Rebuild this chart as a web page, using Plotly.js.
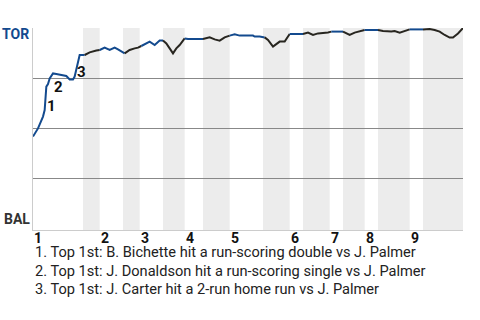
<!DOCTYPE html>
<html>
<head>
<meta charset="utf-8">
<script src="https://cdn.plot.ly/plotly-3.0.1.min.js"></script>
<style>html,body{margin:0;padding:0;background:#fff;}#chart{width:480px;height:320px;}</style>
</head>
<body>
<div id="chart"></div>
<script>
// Game progress (event index) and Toronto win probability (%)
const playX = [0,3,6,7,8,9,10,12,14,17,20,22,24,25,28,31,
  34,38,40,43,46,49,51,53,55,58,61,63,
  65,67,70,73,76,78,80,82,84,86,88,
  91,93,102,106,109,112,115,118,121,124,132,133,136,
  139,141,144,146,148,151,154,162,165,168,171,177,
  179,184,186,190,193,197,199,207,210,215,217,220,223,
  226,234,238,241,244,247,250,252,255,258];
const torWP = [45.7,49.8,55.7,59,70.7,72,74.8,77.3,77,76.5,76,74.3,74.3,75.7,86.5,86.5,
  87.8,88.7,89,90.2,89,90.2,89.3,88.2,87.3,89,89.8,90.2,
  91,91.8,93.2,91.5,93.7,93.7,92.3,89.8,87.3,89.8,91.5,
  94.8,94.5,94.5,95.3,94.3,93.7,95.3,96.2,96.8,96.2,96.2,95.7,95.7,
  95.3,94,90.7,92,93.2,93.2,97,97,97.7,96.5,97.3,97.8,
  98.2,98.2,98.2,96.5,97.7,98.7,99,99,98.5,98.2,98.5,97.7,98.5,
  99.3,99.3,99.5,99,98.2,96.5,95.2,95.2,97.3,100];
// Start of each half-inning (top 1st, bottom 1st, ..., bottom 9th)
const halfStarts = [0,30,40,54,64,78,91,102,118,138,154,162,178,186,199,207,226,234];
const gameEnd = 258;
const inningLabels = ['1','2','3','4','5','6','7','8','9'];
// Key events
const eventLabels = ['1','2','3'];
const eventX = [11,15,29];
const eventY = [61,70.5,78];
const eventNotes = [
  '1. Top 1st: B. Bichette hit a run-scoring double vs J. Palmer',
  '2. Top 1st: J. Donaldson hit a run-scoring single vs J. Palmer',
  '3. Top 1st: J. Carter hit a 2-run home run vs J. Palmer'
];
const teams = ['TOR','BAL'];

const BLUE = '#134A8E', DARK = '#27251F';
const traces = [];
for (let i = 0; i < halfStarts.length; i++) {
  const s = halfStarts[i];
  const e = i + 1 < halfStarts.length ? halfStarts[i + 1] : Infinity;
  const xs = [], ys = [];
  let added = false;
  for (let k = 0; k < playX.length; k++) {
    if (playX[k] >= s && playX[k] < e) { xs.push(playX[k]); ys.push(torWP[k]); }
    else if (playX[k] >= e && !added) { xs.push(playX[k]); ys.push(torWP[k]); added = true; }
  }
  traces.push({x: xs, y: ys, type: 'scatter', mode: 'lines', hoverinfo: 'skip',
    line: {color: i % 2 === 0 ? BLUE : DARK, width: 2}, showlegend: false});
}

const shapes = [];
for (let i = 1; i < halfStarts.length; i += 2) {
  const e = i + 1 < halfStarts.length ? halfStarts[i + 1] : gameEnd;
  shapes.push({type: 'rect', xref: 'x', yref: 'paper', x0: halfStarts[i], x1: e, y0: 0, y1: 1,
    fillcolor: '#ececec', line: {width: 0}, layer: 'below'});
}

const annotations = [];
inningLabels.forEach((t, j) => annotations.push({x: halfStarts[2 * j], y: 0, xref: 'x', yref: 'paper',
  text: t, showarrow: false, xanchor: 'left', yanchor: 'middle', xshift: 1, yshift: -8,
  borderpad: 0, borderwidth: 0,
  font: {family: 'Roboto', size: 14, color: '#111', weight: 'bold'}}));
eventLabels.forEach((t, j) => annotations.push({x: eventX[j], y: eventY[j], xref: 'x', yref: 'y',
  text: t, showarrow: false, xanchor: 'center', yanchor: 'middle', borderpad: 0, borderwidth: 0,
  font: {family: 'Roboto', size: 15, color: '#111', weight: 'bold'}}));
eventNotes.forEach((t, j) => annotations.push({x: 0, y: 0, xref: 'paper', yref: 'paper',
  text: t, showarrow: false, xanchor: 'left', yanchor: 'middle', xshift: 2, yshift: -22 - 18.5 * j,
  borderpad: 0, borderwidth: 0,
  font: {family: 'Roboto', size: 14.6, color: '#222'}}));
annotations.push({x: 0, y: 97, xref: 'paper', yref: 'y', text: teams[0], showarrow: false,
  xanchor: 'right', yanchor: 'middle', xshift: -4, borderpad: 0, borderwidth: 0,
  font: {family: 'Roboto', size: 14, color: BLUE, weight: 'bold'}});
annotations.push({x: 0, y: 4.5, xref: 'paper', yref: 'y', text: teams[1], showarrow: false,
  xanchor: 'right', yanchor: 'middle', xshift: -3, borderpad: 0, borderwidth: 0,
  font: {family: 'Roboto', size: 14, color: '#333', weight: 'bold'}});

const layout = {
  width: 480, height: 320,
  margin: {l: 33, r: 17, t: 28, b: 90, pad: 0},
  paper_bgcolor: '#fff', plot_bgcolor: '#fff',
  xaxis: {range: [0, gameEnd], showgrid: false, zeroline: false, showticklabels: false,
    showline: true, linecolor: '#cccccc', linewidth: 1, ticks: ''},
  yaxis: {range: [-1, 100], tickvals: [25, 50, 75, 100], showgrid: true, gridcolor: '#888888',
    gridwidth: 1, zeroline: false, showticklabels: false, showline: true, linecolor: '#cccccc',
    linewidth: 1, ticks: ''},
  shapes: shapes, annotations: annotations, showlegend: false,
  font: {family: 'Roboto'}
};
Plotly.newPlot('chart', traces, layout, {staticPlot: true, displayModeBar: false});
</script>
</body>
</html>
